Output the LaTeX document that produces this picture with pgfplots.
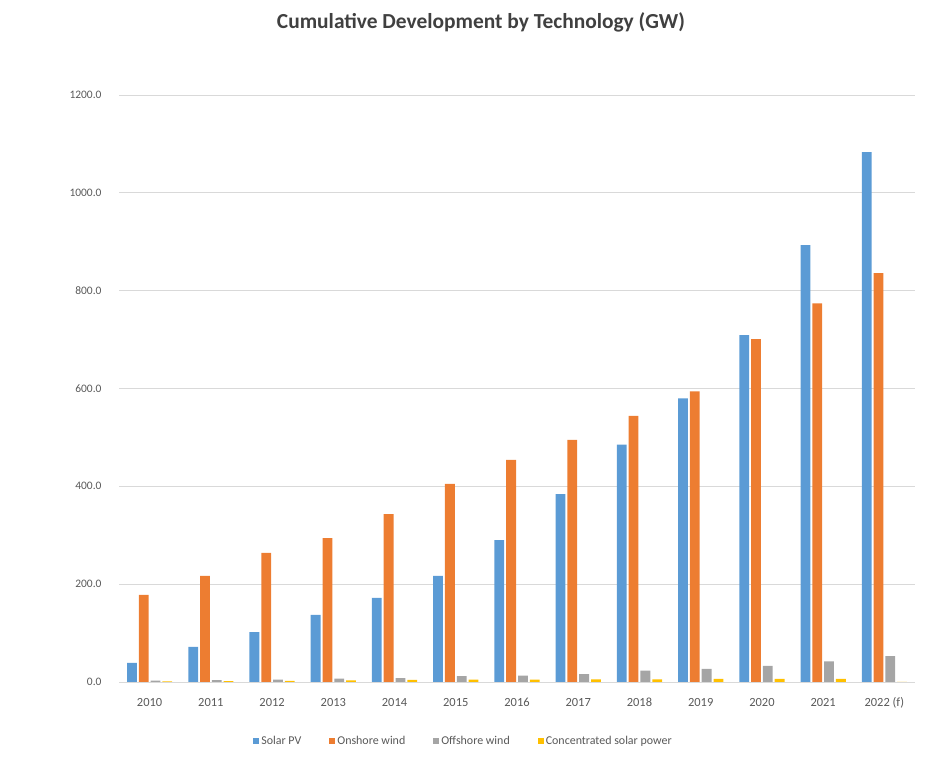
\documentclass[border=0pt]{standalone}
\usepackage{pgfplots}
\pgfplotsset{compat=1.18}
\usepackage{fontspec}
\setmainfont{Carlito}
\definecolor{cBlue}{HTML}{5B9BD5}
\definecolor{cOrange}{HTML}{ED7D31}
\definecolor{cGray}{HTML}{A5A5A5}
\definecolor{cYellow}{HTML}{FFC000}
\definecolor{txt}{HTML}{595959}
\definecolor{grd}{HTML}{D9D9D9}
\pgfplotstableread{
x solar onshore offshore csp
0 39 178 3 1.3
1 72 217 4 1.6
2 102 264 5 2.5
3 137 294 7 3.4
4 172 343 8 4.4
5 217 405 12 4.8
6 290 454 13 5.0
7 384 495 16 5.5
8 485 544 23 5.6
9 580 594 27 6.2
10 709 701 33 6.5
11 893 774 42 6.5
12 1083 836 53 0
}\datatable
\begin{document}
\begin{tikzpicture}[x=1bp,y=1bp]
\path (0,0) rectangle (936,761);
\node[font=\bfseries\fontsize{21.5}{24}\selectfont, text=black!75] at (481,739) {Cumulative Development by Technology (GW)};
\begin{axis}[
  at={(119bp,79bp)}, anchor=south west,
  scale only axis, width=796bp, height=587bp,
  ybar=2bp, bar width=0.16,
  xmin=-0.5, xmax=12.5, ymin=0, ymax=1200,
  xtick=data,
  xticklabels={2010,2011,2012,2013,2014,2015,2016,2017,2018,2019,2020,2021,2022 (f)},
  ytick={0,200,400,600,800,1000,1200},
  yticklabels={0.0,200.0,400.0,600.0,800.0,1000.0,1200.0},
  xticklabel style={font=\fontsize{12.5}{14}\selectfont, text=txt, anchor=base, yshift=-25bp},
  yticklabel style={font=\fontsize{11.5}{13}\selectfont, text=txt, xshift=-14bp},
  ymajorgrids, grid style={grd, line width=0.9bp},
  axis x line*=bottom, axis y line*=left,
  x axis line style={draw=grd, line width=0.9bp, -},
  y axis line style={draw=none},
  major tick length=0pt,
  legend style={at={(0.4328,-0.1005)}, anchor=center, draw=none, legend columns=4,
    font=\fontsize{12}{14}\selectfont, text=txt,
    /tikz/every even column/.append style={column sep=26bp}},
  legend image code/.code={\fill[#1] (0bp,-3bp) rectangle (6bp,3bp);},
]
\addplot[fill=cBlue, draw=none] table[x=x,y=solar] {\datatable};
\addplot[fill=cOrange, draw=none] table[x=x,y=onshore] {\datatable};
\addplot[fill=cGray, draw=none] table[x=x,y=offshore] {\datatable};
\addplot[fill=cYellow, draw=none] table[x=x,y=csp] {\datatable};
\legend{Solar PV, Onshore wind, Offshore wind, Concentrated solar power}
\end{axis}
\end{tikzpicture}
\end{document}
